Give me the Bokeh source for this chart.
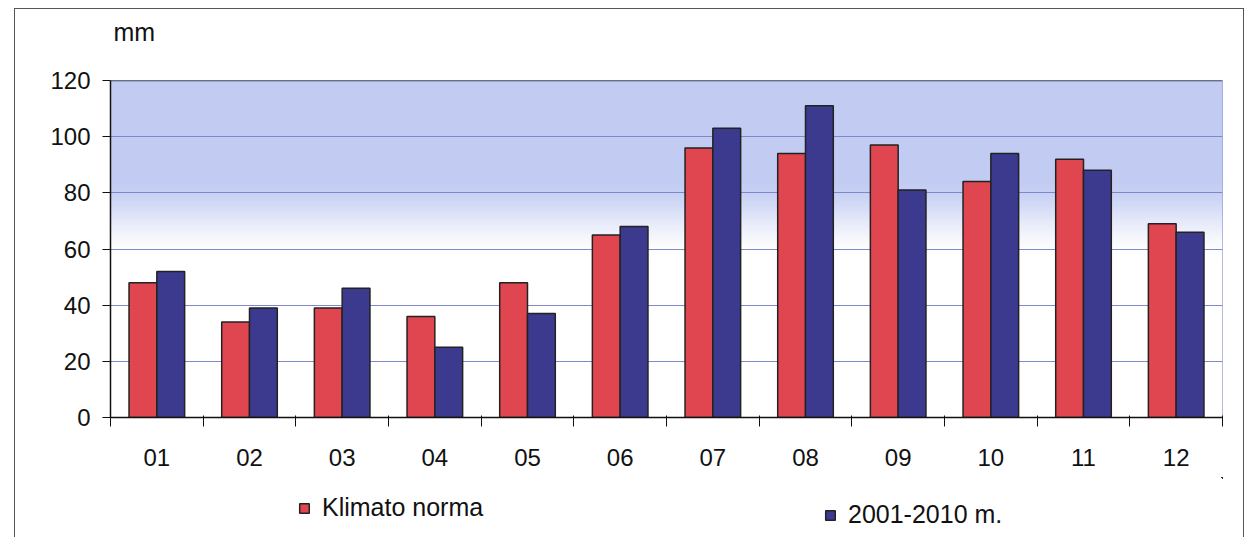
import numpy as np
from bokeh.plotting import figure
from bokeh.layouts import column
from bokeh.models import FixedTicker, Legend, LegendItem, Span, Range1d, Label
from bokeh.embed import file_html
from bokeh.resources import INLINE

# ---- data ----
months = ["01", "02", "03", "04", "05", "06", "07", "08", "09", "10", "11", "12"]
klimato_norma = [48, 34, 39, 36, 48, 65, 96, 94, 97, 84, 92, 69]
m2001_2010 = [52, 39, 46, 25, 37, 68, 103, 111, 81, 94, 88, 66]
y_ticks = [0, 20, 40, 60, 80, 100, 120]
series_names = ["Klimato norma", "2001-2010 m."]
unit_label = "mm"

# ---- style ----
FONT = "Liberation Sans"
FS = "24px"
TEXT = "#111111"
RED = "#e0464f"
BLUE = "#3b3a8e"
EDGE = "#222222"
GRID = "#8088cc"
GRAD_TOP = np.array([194, 204, 243])

FW, FH = 1112, 337   # plot frame size
BL, BR = 95, 21      # side borders
TOP_H = 40           # strip holding the unit label
LEG_H = 60           # strip holding the legend

n = len(months)
centers = np.arange(n) + 0.5
bar_w = 0.3
y_max = y_ticks[-1]


def strip(h, xr, yr):
    s = figure(frame_width=FW, frame_height=h, min_border_left=BL, min_border_right=BR,
               min_border_top=0, min_border_bottom=0, x_range=xr, y_range=yr,
               x_axis_type=None, y_axis_type=None, output_backend="svg", toolbar_location=None)
    s.outline_line_color = None
    s.xgrid.visible = False
    s.ygrid.visible = False
    return s


# ---------------- unit label strip ----------------
pt = strip(TOP_H, Range1d(0, FW), Range1d(0, TOP_H))
pt.add_layout(Label(x=3, y=18, text=unit_label, text_font=FONT, text_font_size="25px",
                    text_color=TEXT, text_align="left", text_baseline="alphabetic"))

# ---------------- main chart ----------------
p = figure(frame_width=FW, frame_height=FH,
           min_border_left=BL, min_border_right=BR,
           min_border_top=31, min_border_bottom=60,
           x_range=Range1d(0, n), y_range=Range1d(0, y_max),
           output_backend="svg", toolbar_location=None)

# background gradient (blue at top fading to white)
rows = FH
yy = (np.arange(rows) + 0.5) / rows * y_max
s = np.clip((yy - 57) / (86 - 57), 0, 1)
t = s * s * (3 - 2 * s)
rgb = (255 * (1 - t[:, None]) + GRAD_TOP[None, :] * t[:, None]).astype(np.uint32)
img = np.empty((rows, 1), dtype=np.uint32)
view = img.view(dtype=np.uint8).reshape((rows, 1, 4))
view[:, 0, 0] = rgb[:, 0]
view[:, 0, 1] = rgb[:, 1]
view[:, 0, 2] = rgb[:, 2]
view[:, 0, 3] = 255
p.image_rgba(image=[img], x=0, y=0, dw=n, dh=y_max, level="image")

p.vbar(x=centers - bar_w / 2, top=klimato_norma, width=bar_w,
       fill_color=RED, line_color=EDGE, line_width=1.5)
p.vbar(x=centers + bar_w / 2, top=m2001_2010, width=bar_w,
       fill_color=BLUE, line_color=EDGE, line_width=1.5)

p.add_layout(Span(location=y_max, dimension="width", line_color="#333", line_width=1.5))

p.xgrid.visible = False
p.ygrid.ticker = FixedTicker(ticks=y_ticks)
p.ygrid.grid_line_color = GRID
p.ygrid.grid_line_width = 1
p.outline_line_color = "#9aa5dc"
p.background_fill_color = "white"
p.border_fill_color = "white"

p.yaxis.ticker = FixedTicker(ticks=y_ticks)
p.yaxis.major_tick_out = 8
p.yaxis.major_tick_in = 0
p.yaxis.minor_tick_line_color = None
p.yaxis.axis_line_color = "#111"
p.yaxis.axis_line_width = 1.5
p.yaxis.major_tick_line_color = "#111"
p.yaxis.major_label_standoff = 12
p.yaxis.major_label_text_font = FONT
p.yaxis.major_label_text_font_size = FS
p.yaxis.major_label_text_color = TEXT

p.xaxis.ticker = FixedTicker(ticks=list(centers), minor_ticks=list(range(n + 1)))
p.xaxis.major_label_overrides = {float(c): m for c, m in zip(centers, months)}
p.xaxis.major_tick_out = 0
p.xaxis.major_tick_in = 0
p.xaxis.minor_tick_out = 9
p.xaxis.minor_tick_in = 2
p.xaxis.minor_tick_line_color = "#111"
p.xaxis.axis_line_color = "#111"
p.xaxis.axis_line_width = 1.5
p.xaxis.major_label_standoff = 22
p.xaxis.major_label_text_font = FONT
p.xaxis.major_label_text_font_size = FS
p.xaxis.major_label_text_color = TEXT

# ---------------- legend strip ----------------
# key renderers hold the series but lie entirely outside this strip's visible
# ranges, so only their legend swatches are drawn
pl = strip(LEG_H, Range1d(-3, -2), Range1d(-3, -2))
k1 = pl.vbar(x=centers, top=klimato_norma, width=bar_w,
             fill_color=RED, line_color=EDGE, line_width=1.5)
k2 = pl.vbar(x=centers, top=m2001_2010, width=bar_w,
             fill_color=BLUE, line_color=EDGE, line_width=1.5)
for name, r, loc in [(series_names[0], k1, (188, 15)), (series_names[1], k2, (714, 8))]:
    lg = Legend(items=[LegendItem(label=name, renderers=[r])], location=loc,
                orientation="horizontal", background_fill_alpha=0, border_line_alpha=0,
                padding=0, margin=0, glyph_width=12, glyph_height=12, label_standoff=12,
                label_text_font=FONT, label_text_font_size="25px", label_text_color=TEXT)
    pl.add_layout(lg)

layout = column(pt, p, pl, spacing=0)
layout.styles = {"margin-left": "14px", "margin-top": "8px",
                 "border-left": "1px solid #555", "border-top": "1px solid #555",
                 "border-right": "1px solid #555"}

open("out.html", "w").write(file_html(layout, INLINE))
